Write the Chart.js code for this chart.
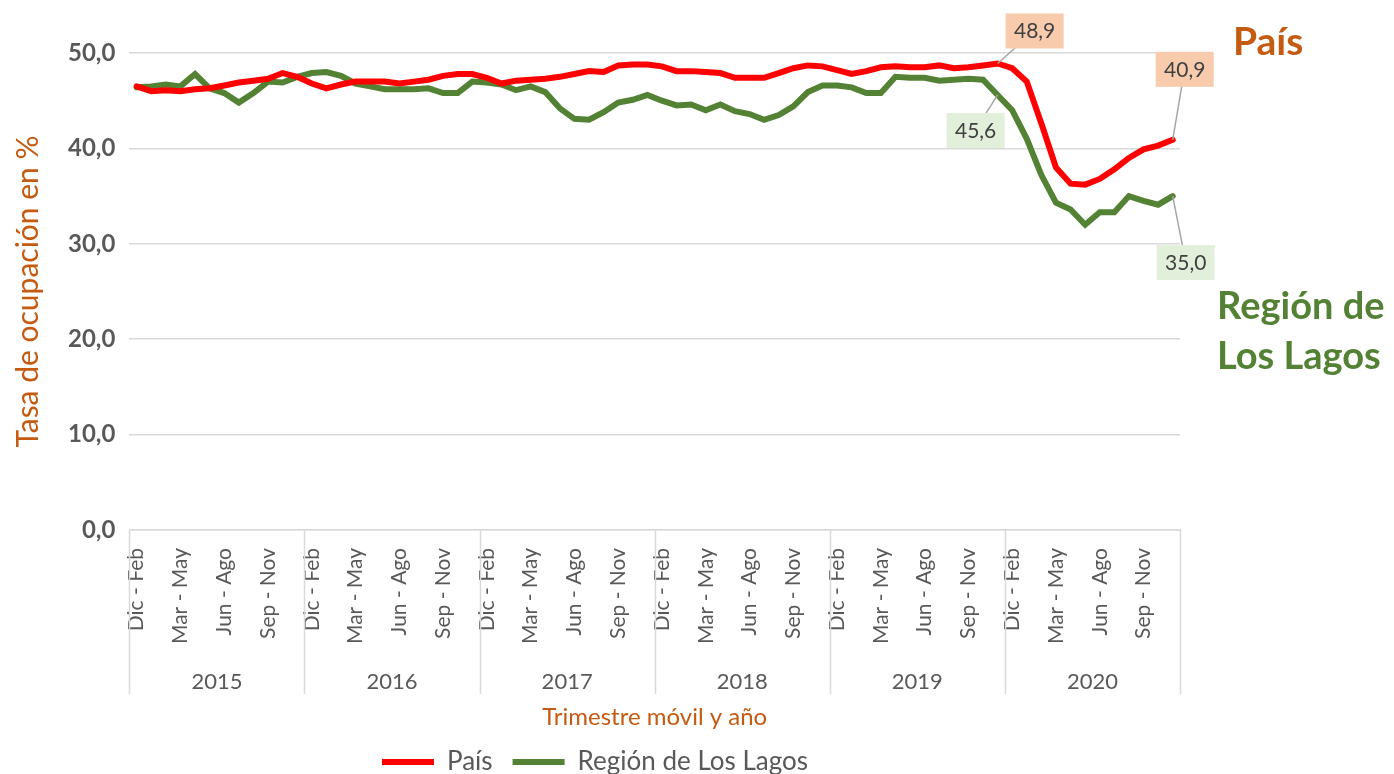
<!DOCTYPE html>
<html>
<head>
<meta charset="utf-8">
<script src="https://cdn.jsdelivr.net/npm/chart.js@4.4.1/dist/chart.umd.min.js"></script>
<style>
  html, body { margin: 0; padding: 0; background: #fff; }
  #wrap { width: 1394px; height: 774px; }
</style>
</head>
<body>
<div id="wrap"><canvas id="myChart" width="1394" height="774"></canvas></div>
<script>
const years = ['2015', '2016', '2017', '2018', '2019', '2020'];
const trimestres = ['Dic - Feb', 'Ene - Mar', 'Feb - Abr', 'Mar - May', 'Abr - Jun', 'May - Jul',
                    'Jun - Ago', 'Jul - Sep', 'Ago - Oct', 'Sep - Nov', 'Oct - Dic', 'Nov - Ene'];
const yTicks = [0, 10, 20, 30, 40, 50];

const pais = [
    46.5, 46.0, 46.1, 46.0, 46.2, 46.3, 46.6, 46.9, 47.1, 47.3, 47.9, 47.5,
    46.8, 46.3, 46.7, 47.0, 47.0, 47.0, 46.8, 47.0, 47.2, 47.6, 47.8, 47.8,
    47.4, 46.8, 47.1, 47.2, 47.3, 47.5, 47.8, 48.1, 48.0, 48.7, 48.8, 48.8,
    48.6, 48.1, 48.1, 48.0, 47.9, 47.4, 47.4, 47.4, 47.9, 48.4, 48.7, 48.6,
    48.2, 47.8, 48.1, 48.5, 48.6, 48.5, 48.5, 48.7, 48.4, 48.5, 48.7, 48.9,
    48.4, 47.0, 42.6, 38.0, 36.3, 36.2, 36.8, 37.8, 39.0, 39.9, 40.3, 40.9
];
const losLagos = [
    46.4, 46.5, 46.7, 46.5, 47.8, 46.3, 45.8, 44.8, 45.8, 47.0, 46.9, 47.5,
    47.9, 48.0, 47.6, 46.8, 46.5, 46.2, 46.2, 46.2, 46.3, 45.8, 45.8, 47.0,
    46.9, 46.7, 46.1, 46.5, 45.9, 44.2, 43.1, 43.0, 43.8, 44.8, 45.1, 45.6,
    45.0, 44.5, 44.6, 44.0, 44.6, 43.9, 43.6, 43.0, 43.5, 44.4, 45.9, 46.6,
    46.6, 46.4, 45.8, 45.8, 47.5, 47.4, 47.4, 47.1, 47.2, 47.3, 47.2, 45.6,
    44.0, 41.0, 37.2, 34.3, 33.6, 32.0, 33.3, 33.3, 35.0, 34.5, 34.1, 35.0
];

// etiquetas de categoria: trimestre movil repetido por cada año
const labels = [];
years.forEach(function (y) {
    trimestres.forEach(function (t) { labels.push(t); });
});

const fmt = function (v) { return v.toFixed(1).replace('.', ','); };

// recuadros de valores: [dataset, indice, dx, dy, fondo]
const callouts = [
    [0, 59, 37, -33, '#F8CBAD'],
    [0, 71, 12, -71, '#F8CBAD'],
    [1, 59, -22, 35, '#E2EFDA'],
    [1, 71, 13, 66, '#E2EFDA']
];

const extras = {
    id: 'extras',
    afterDraw(chart) {
        const ctx = chart.ctx;
        const x2 = chart.scales.x2;
        const area = chart.chartArea;
        // separadores de años
        const half = (x2.getPixelForValue(1) - x2.getPixelForValue(0)) / 2;
        ctx.save();
        ctx.strokeStyle = '#D9D9D9';
        ctx.lineWidth = 1.5;
        for (let k = 0; k <= years.length; k++) {
            const px = Math.round(x2.getPixelForValue(0) - half + k * half * 2) + 0.5;
            ctx.beginPath();
            ctx.moveTo(px, area.bottom);
            ctx.lineTo(px, x2.top + 40);
            ctx.stroke();
        }
        // recuadros de valores
        ctx.font = '21px Lato';
        ctx.textAlign = 'center';
        ctx.textBaseline = 'middle';
        callouts.forEach(function (c) {
            const pt = chart.getDatasetMeta(c[0]).data[c[1]];
            const v = chart.data.datasets[c[0]].data[c[1]];
            const bx = pt.x + c[2], by = pt.y + c[3];
            ctx.strokeStyle = '#A6A6A6';
            ctx.lineWidth = 1.5;
            ctx.beginPath();
            ctx.moveTo(pt.x, pt.y);
            ctx.lineTo(bx, by);
            ctx.stroke();
            ctx.fillStyle = c[4];
            ctx.fillRect(bx - 29, by - 17, 58, 35);
            ctx.fillStyle = '#404040';
            ctx.fillText(fmt(v), bx, by + 1);
        });
        // nombres de series a la derecha
        ctx.textAlign = 'left';
        ctx.font = 'bold 39px Lato';
        ctx.fillStyle = '#C55A11';
        ctx.fillText('País', 1233, 42);
        ctx.font = 'bold 38px Lato';
        ctx.fillStyle = '#548235';
        ctx.fillText('Región de', 1217, 307);
        ctx.fillText('Los Lagos', 1217, 357);
        ctx.restore();
    }
};

const ctx = document.getElementById('myChart');
new Chart(ctx, {
    type: 'line',
    data: {
        labels: labels,
        datasets: [{
            label: 'País',
            data: pais,
            borderColor: '#FF0000',
            backgroundColor: '#FF0000',
            borderWidth: 6,
            borderCapStyle: 'round',
            pointRadius: 0,
            tension: 0
        }, {
            label: 'Región de Los Lagos',
            data: losLagos,
            borderColor: '#548235',
            backgroundColor: '#548235',
            borderWidth: 6,
            borderCapStyle: 'round',
            pointRadius: 0,
            tension: 0
        }]
    },
    options: {
        responsive: false,
        animation: false,
        layout: {
            padding: { top: 53, right: 214, left: 10, bottom: -11 }
        },
        scales: {
            x: {
                offset: true,
                grid: { display: false },
                border: { color: '#D9D9D9', width: 1.5 },
                ticks: {
                    autoSkip: false,
                    maxRotation: 90,
                    minRotation: 90,
                    padding: 10,
                    color: '#595959',
                    font: { family: 'Lato', size: 21 },
                    callback: function (value, index) {
                        return index % 3 === 0 ? labels[index] : '';
                    }
                }
            },
            x2: {
                type: 'category',
                position: 'bottom',
                weight: 1,
                labels: years,
                offset: true,
                grid: { display: false },
                border: { display: false },
                ticks: {
                    padding: 9,
                    color: '#595959',
                    font: { family: 'Lato', size: 22, lineHeight: 1.0 }
                },
                title: {
                    display: true,
                    text: 'Trimestre móvil y año',
                    color: '#C55A11',
                    font: { family: 'Lato', size: 24, lineHeight: 1.0 },
                    padding: { top: 3, bottom: 0 }
                }
            },
            y: {
                min: 0,
                max: 50,
                afterBuildTicks: function (scale) {
                    scale.ticks = yTicks.map(function (v) { return { value: v }; });
                },
                grid: { color: '#D9D9D9', lineWidth: 1.5, drawTicks: false },
                border: { display: false },
                ticks: {
                    padding: 14,
                    color: '#595959',
                    font: { family: 'Lato', size: 24, weight: 'bold' },
                    callback: function (value) { return fmt(value); }
                },
                title: {
                    display: true,
                    text: 'Tasa de ocupación en %',
                    color: '#C55A11',
                    font: { family: 'Lato', size: 30 },
                    padding: { top: 0, bottom: 8 }
                }
            }
        },
        plugins: {
            legend: {
                position: 'bottom',
                labels: {
                    usePointStyle: true,
                    pointStyle: 'line',
                    pointStyleWidth: 52,
                    padding: 20,
                    color: '#595959',
                    font: { family: 'Lato', size: 26 }
                }
            },
            tooltip: { enabled: false }
        }
    },
    plugins: [extras]
});
</script>
</body>
</html>
